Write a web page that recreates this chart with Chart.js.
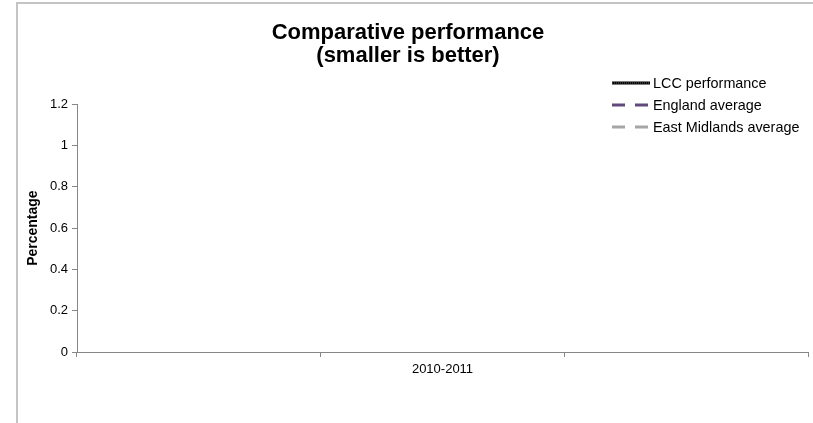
<!DOCTYPE html>
<html>
<head>
<meta charset="utf-8">
<script src="https://cdn.jsdelivr.net/npm/chart.js@4.4.0/dist/chart.umd.min.js"></script>
<style>
html, body { margin: 0; padding: 0; background: #fff; overflow: hidden; }
#wrap { position: relative; width: 813px; height: 423px; }
#frame { position: absolute; left: 16px; top: 2px; width: 900px; height: 500px; border-left: 2px solid #c4c4c4; border-top: 2px solid #c4c4c4; }
canvas { position: absolute; left: 0; top: 0; }
</style>
</head>
<body>
<div id="wrap">
    <div id="frame"></div>
    <canvas id="myChart" width="813" height="423"></canvas>
</div>
<script>
// categories and series (no visible values in the picture)
const categories = ['', '2010-2011', ''];
const lccValues = [null, null, null];
const englandValues = [null, null, null];
const eastMidlandsValues = [null, null, null];
const seriesNames = ['LCC performance', 'England average', 'East Midlands average'];
const yTicks = [0, 0.2, 0.4, 0.6, 0.8, 1, 1.2];
const yTickLabels = ['0', '0.2', '0.4', '0.6', '0.8', '1', '1.2'];

const FONT = '"Liberation Sans", Arial, sans-serif';
const axisColor = '#868686';

// legend drawn over the top right corner like the original
const floatLegend = {
    id: 'floatLegend',
    afterDraw(chart) {
        const ctx = chart.ctx;
        const x0 = 612, x1 = 650, textX = 653;
        let y = 83;
        ctx.save();
        ctx.font = '14.4px ' + FONT;
        ctx.textBaseline = 'middle';
        ctx.textAlign = 'left';
        chart.data.datasets.forEach((ds) => {
            ctx.beginPath();
            ctx.setLineDash(ds.borderDash || []);
            ctx.lineWidth = ds.borderWidth;
            ctx.strokeStyle = ds.borderColor;
            ctx.moveTo(x0, y);
            ctx.lineTo(x1, y);
            ctx.stroke();
            if (!ds.borderDash) {
                // dotted texture on the solid line
                ctx.beginPath();
                ctx.setLineDash([1, 1]);
                ctx.lineWidth = 1;
                ctx.strokeStyle = '#6a6a6a';
                ctx.moveTo(x0, y);
                ctx.lineTo(x1, y);
                ctx.stroke();
            }
            ctx.setLineDash([]);
            ctx.fillStyle = '#000';
            ctx.fillText(ds.label, textX, y + 1);
            y += 22;
        });
        ctx.restore();
    }
};

const ctx = document.getElementById('myChart').getContext('2d');
new Chart(ctx, {
    type: 'line',
    data: {
        labels: categories,
        datasets: [{
            label: seriesNames[0],
            data: lccValues,
            borderColor: '#000000',
            borderWidth: 3,
            pointRadius: 0
        }, {
            label: seriesNames[1],
            data: englandValues,
            borderColor: '#604a7b',
            borderWidth: 3,
            borderDash: [13, 10],
            pointRadius: 0
        }, {
            label: seriesNames[2],
            data: eastMidlandsValues,
            borderColor: '#a6a6a6',
            borderWidth: 3,
            borderDash: [13, 10],
            pointRadius: 0
        }]
    },
    plugins: [floatLegend],
    options: {
        responsive: false,
        animation: false,
        layout: { padding: { left: 8, right: 5, top: 0, bottom: 30 } },
        plugins: {
            legend: { display: false },
            tooltip: { enabled: false },
            title: {
                display: true,
                text: ['Comparative performance', '(smaller is better)'],
                color: '#000',
                font: { family: FONT, size: 22, weight: 'bold', lineHeight: 1.05 },
                padding: { top: 21, bottom: 37 }
            }
        },
        scales: {
            x: {
                offset: true,
                grid: { offset: true, drawOnChartArea: false, color: axisColor, tickLength: 5 },
                border: { color: axisColor },
                ticks: { color: '#000', font: { family: FONT, size: 13 }, padding: 5, maxRotation: 0, autoSkip: false },
                afterFit(scale) { scale.height = 41; }
            },
            y: {
                min: 0,
                max: 1.2,
                afterBuildTicks(scale) { scale.ticks = yTicks.map(v => ({ value: v })); },
                grid: { drawOnChartArea: false, color: axisColor, tickLength: 5 },
                border: { color: axisColor },
                ticks: {
                    color: '#000',
                    font: { family: FONT, size: 13 },
                    padding: 4,
                    callback: (v) => yTickLabels[yTicks.indexOf(v)]
                },
                title: {
                    display: true,
                    text: 'Percentage',
                    color: '#000',
                    font: { family: FONT, size: 14, weight: 'bold' },
                    padding: { top: 17, bottom: 0 }
                },
                afterFit(scale) { scale.width = 69; }
            }
        }
    }
});
</script>
</body>
</html>
